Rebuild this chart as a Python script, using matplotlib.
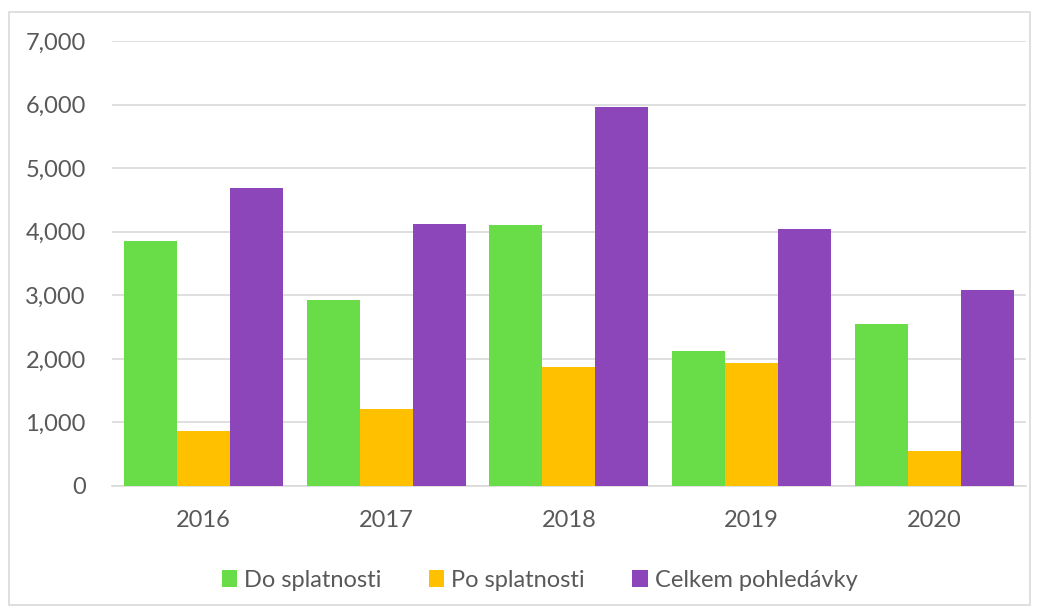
import matplotlib.pyplot as plt
import numpy as np
from matplotlib.patches import Rectangle

plt.rcParams['font.family'] = ['Lato', 'DejaVu Sans']

years = ['2016', '2017', '2018', '2019', '2020']
do_splatnosti = [3850, 2920, 4105, 2125, 2550]
po_splatnosti = [860, 1210, 1870, 1935, 550]
celkem = [4690, 4120, 5960, 4045, 3085]

series = [('Do splatnosti', do_splatnosti, '#69DD47'),
          ('Po splatnosti', po_splatnosti, '#FFC000'),
          ('Celkem pohledávky', celkem, '#8C46BA')]

fig = plt.figure(figsize=(10.42, 6.13), dpi=100)
ax = fig.add_axes([0.1075, 0.2072, 0.8771, 0.7259])

# chart border
fig.patches.append(Rectangle((9 / 1042, 1 - 605 / 613), 1021 / 1042, 593 / 613,
                             transform=fig.transFigure, fill=False,
                             edgecolor='#D9D9D9', linewidth=1.2))

x = np.arange(len(years))
w = 0.29
for i, (name, vals, col) in enumerate(series):
    ax.bar(x + (i - 1) * w, vals, w, color=col, label=name, zorder=3)

ax.set_xlim(-0.5, len(years) - 0.5)
ax.set_ylim(0, 7000)
ax.set_yticks(range(0, 7001, 1000))
ax.set_yticklabels([f'{v:,}' for v in range(0, 7001, 1000)])
ax.set_xticks(x)
ax.set_xticklabels(years)
ax.grid(axis='y', color='#D9D9D9', linewidth=1.2, zorder=0)
for s in ['top', 'right', 'left']:
    ax.spines[s].set_visible(False)
ax.spines['bottom'].set_color('#D9D9D9')
ax.spines['bottom'].set_linewidth(1.2)
ax.tick_params(axis='both', length=0, labelsize=17, labelcolor='#595959')
ax.tick_params(axis='y', pad=19)
ax.tick_params(axis='x', pad=17)

ax.legend(loc='upper center', bbox_to_anchor=(0.468, -0.14), ncol=3, frameon=False,
          fontsize=17, labelcolor='#595959', handlelength=0.65, handleheight=0.75,
          handletextpad=0.3, columnspacing=2.0)

fig.savefig('out.png', dpi=100)
